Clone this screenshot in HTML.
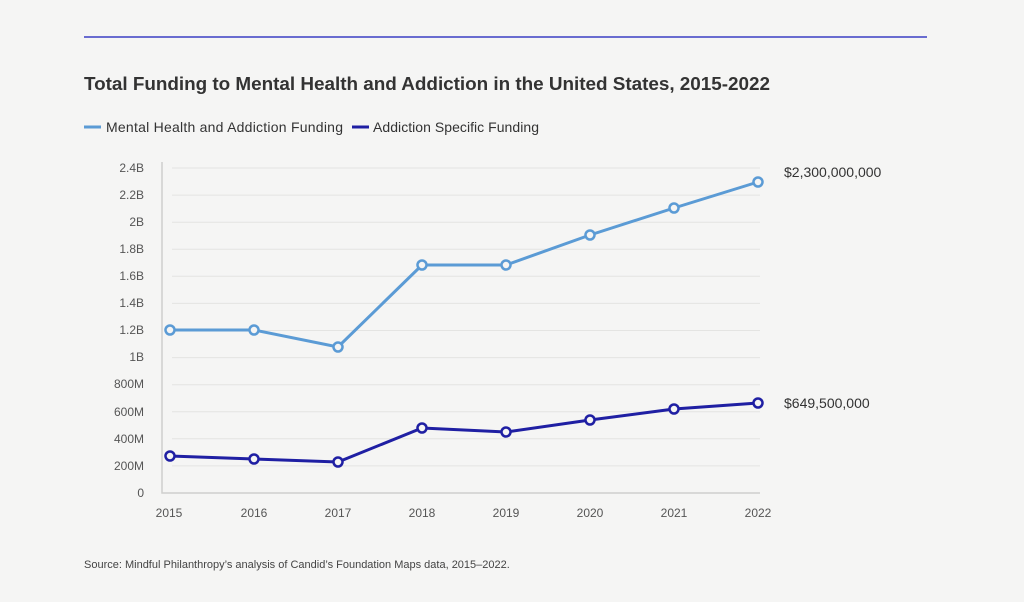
<!DOCTYPE html>
<html><head><style>
body{margin:0;background:#f5f5f4;font-family:"Liberation Sans",sans-serif;}
</style></head><body>
<svg width="1024" height="602" xmlns="http://www.w3.org/2000/svg" style="display:block">
<rect width="1024" height="602" fill="#f5f5f4"/>
<line x1="84" y1="37" x2="927" y2="37" stroke="#3b3fc4" stroke-width="1.5"/>
<text x="84" y="90" font-size="18.9" font-weight="bold" fill="#333" textLength="686">Total Funding to Mental Health and Addiction in the United States, 2015-2022</text>
<line x1="84" y1="127" x2="101" y2="127" stroke="#5b9bd5" stroke-width="3"/>
<text x="106" y="132" font-size="14" fill="#333" textLength="237">Mental Health and Addiction Funding</text>
<line x1="352" y1="127" x2="369" y2="127" stroke="#1f1fa3" stroke-width="3"/>
<text x="373" y="132" font-size="14" fill="#333" textLength="166">Addiction Specific Funding</text>
<g stroke="#e4e4e2" stroke-width="1">
<line x1="172" x2="760" y1="168" y2="168"/><line x1="172" x2="760" y1="195.1" y2="195.1"/><line x1="172" x2="760" y1="222.2" y2="222.2"/><line x1="172" x2="760" y1="249.2" y2="249.2"/><line x1="172" x2="760" y1="276.3" y2="276.3"/><line x1="172" x2="760" y1="303.4" y2="303.4"/><line x1="172" x2="760" y1="330.5" y2="330.5"/><line x1="172" x2="760" y1="357.6" y2="357.6"/><line x1="172" x2="760" y1="384.7" y2="384.7"/><line x1="172" x2="760" y1="411.8" y2="411.8"/><line x1="172" x2="760" y1="438.8" y2="438.8"/><line x1="172" x2="760" y1="465.9" y2="465.9"/>
</g>
<polyline points="162,162 162,493 760,493" fill="none" stroke="#cfcfcd" stroke-width="1.5"/>
<g font-size="12" fill="#555" text-anchor="end">
<text x="144" y="172">2.4B</text><text x="144" y="199">2.2B</text><text x="144" y="226">2B</text><text x="144" y="253">1.8B</text><text x="144" y="280">1.6B</text><text x="144" y="307">1.4B</text><text x="144" y="334">1.2B</text><text x="144" y="361">1B</text><text x="144" y="388">800M</text><text x="144" y="416">600M</text><text x="144" y="443">400M</text><text x="144" y="470">200M</text><text x="144" y="497">0</text>
</g>
<g font-size="12" fill="#555" text-anchor="middle">
<text x="169" y="517">2015</text><text x="254" y="517">2016</text><text x="338" y="517">2017</text><text x="422" y="517">2018</text><text x="506" y="517">2019</text><text x="590" y="517">2020</text><text x="674" y="517">2021</text><text x="758" y="517">2022</text>
</g>
<polyline points="170,330 254,330 338,347 422,265 506,265 590,235 674,208 758,182" fill="none" stroke="#5b9bd5" stroke-width="3"/>
<g fill="#f5f5f4" stroke="#5b9bd5" stroke-width="2.5">
<circle cx="170" cy="330" r="4.5"/><circle cx="254" cy="330" r="4.5"/><circle cx="338" cy="347" r="4.5"/><circle cx="422" cy="265" r="4.5"/><circle cx="506" cy="265" r="4.5"/><circle cx="590" cy="235" r="4.5"/><circle cx="674" cy="208" r="4.5"/><circle cx="758" cy="182" r="4.5"/>
</g>
<polyline points="170,456 254,459 338,462 422,428 506,432 590,420 674,409 758,403" fill="none" stroke="#1f1fa3" stroke-width="3"/>
<g fill="#f5f5f4" stroke="#1f1fa3" stroke-width="2.5">
<circle cx="170" cy="456" r="4.5"/><circle cx="254" cy="459" r="4.5"/><circle cx="338" cy="462" r="4.5"/><circle cx="422" cy="428" r="4.5"/><circle cx="506" cy="432" r="4.5"/><circle cx="590" cy="420" r="4.5"/><circle cx="674" cy="409" r="4.5"/><circle cx="758" cy="403" r="4.5"/>
</g>
<text x="784" y="177" font-size="14" fill="#333">$2,300,000,000</text>
<text x="784" y="408" font-size="14" fill="#333">$649,500,000</text>
<text x="84" y="568" font-size="11" fill="#444">Source: Mindful Philanthropy’s analysis of Candid’s Foundation Maps data, 2015–2022.</text>
</svg>
</body></html>
